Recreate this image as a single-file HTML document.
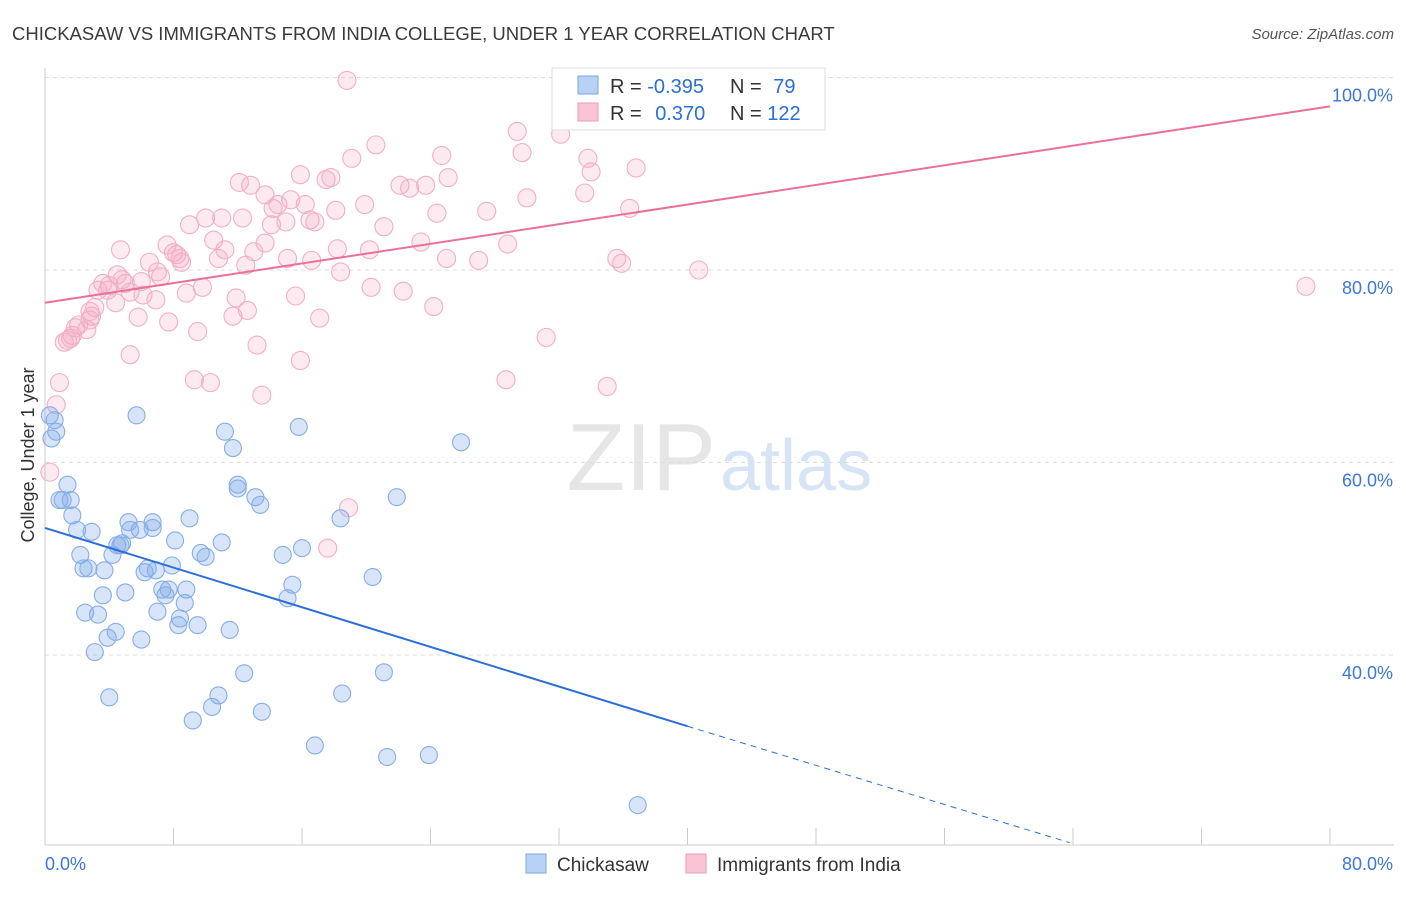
<!DOCTYPE html>
<html><head><meta charset="utf-8"><style>
body{margin:0;background:#fff;font-family:"Liberation Sans",sans-serif;}
svg text{font-family:"Liberation Sans",sans-serif;}
</style></head><body>
<svg id="chart" width="1406" height="892" viewBox="0 0 1406 892" xmlns="http://www.w3.org/2000/svg">
<text x="12" y="40" font-size="18.5" fill="#3a3a3a">CHICKASAW VS IMMIGRANTS FROM INDIA COLLEGE, UNDER 1 YEAR CORRELATION CHART</text>
<text x="1394" y="39" font-size="15" fill="#555" font-style="italic" text-anchor="end">Source: ZipAtlas.com</text>
<text x="716" y="490" font-size="96" fill="#e6e6e6" font-family="Liberation Serif" text-anchor="end">ZIP</text>
<text x="720" y="490" font-size="72" fill="#d6e4f5">atlas</text>
<g id="grid"></g>
<g id="axes"></g>
<g id="pts"></g>
<g id="lines"></g>
<text x="34" y="455" font-size="18" fill="#333" transform="rotate(-90 34 455)" text-anchor="middle">College, Under 1 year</text>
<g>
<rect x="552" y="68" width="273" height="62" fill="#fff" stroke="#ddd"/>
<rect x="578" y="76" width="20" height="18" fill="#b8d2f5" stroke="#7aa7e6"/>
<rect x="578" y="103" width="20" height="18" fill="#f8c4d4" stroke="#ee9ab5"/>
<text x="610" y="93" font-size="20" fill="#333">R = <tspan fill="#2b6fd6">-0.395</tspan></text>
<text x="730" y="93" font-size="20" fill="#333">N = <tspan fill="#2b6fd6" dx="6">79</tspan></text>
<text x="610" y="120" font-size="20" fill="#333">R = <tspan fill="#2b6fd6" dx="8">0.370</tspan></text>
<text x="730" y="120" font-size="20" fill="#333">N = <tspan fill="#2b6fd6">122</tspan></text>
</g>
<g>
<rect x="526" y="854" width="20" height="19" fill="#b8d2f5" stroke="#7aa7e6"/>
<text x="557" y="871" font-size="19" fill="#333">Chickasaw</text>
<rect x="686" y="854" width="20" height="19" fill="#f8c4d4" stroke="#ee9ab5"/>
<text x="717" y="871" font-size="19" fill="#333">Immigrants from India</text>
</g>
</svg>
<script>
const blueX=[0.3,0.4,0.6,0.7,1.1,1.4,1.6,1.7,2.0,2.2,2.4,2.7,2.9,3.1,3.3,3.6,3.7,3.9,4.2,4.4,4.5,4.8,5.0,5.2,5.3,4.0,5.7,5.9,6.0,6.2,6.4,6.7,6.9,7.0,7.3,7.5,7.7,7.9,8.1,8.3,8.4,8.7,8.8,9.0,9.2,9.5,9.7,10.0,10.4,10.8,11.0,11.2,11.5,11.7,12.0,12.0,13.1,13.4,13.5,12.4,14.8,15.1,15.4,15.8,16.0,16.8,18.4,18.5,20.4,21.1,21.3,21.9,23.9,25.9,36.9,2.5,0.9,6.7,4.7];
const blueY=[64.9,62.5,64.4,63.2,56.1,57.7,56.1,54.5,53.0,50.4,49.0,49.0,52.8,40.3,44.2,46.2,48.8,41.8,50.4,42.4,51.4,51.6,46.5,53.8,53.0,35.6,64.9,53.0,41.6,48.6,49.0,53.8,48.8,44.5,46.8,46.2,46.8,49.3,51.9,43.1,43.8,45.4,46.8,54.2,33.2,43.1,50.6,50.2,34.6,35.8,51.7,63.2,42.6,61.5,57.3,57.7,56.4,55.6,34.1,38.1,50.4,45.9,47.3,63.7,51.1,30.6,54.2,36.0,48.1,38.2,29.4,56.4,29.6,62.1,24.4,44.4,56.1,53.2,51.4];
const pinkX=[18.8,20.6,19.1,29.4,29.7,32.1,33.8,34.0,36.8,24.7,25.1,15.9,17.8,17.5,12.1,12.8,13.7,15.3,14.5,16.2,18.1,19.9,22.1,22.7,23.7,33.6,30.0,27.5,24.4,36.4,9.0,10.0,11.0,12.3,14.1,15.0,16.5,16.8,14.2,10.5,11.2,13.0,13.7,15.1,16.6,18.2,20.2,21.1,23.4,25.0,27.0,28.8,35.6,35.9,40.7,7.6,8.2,8.5,8.0,6.5,7.0,7.2,6.0,5.0,4.5,4.0,3.6,3.9,3.3,6.1,6.9,5.3,4.8,8.8,9.8,11.9,11.7,12.6,15.6,17.1,18.4,20.3,22.3,24.2,7.7,5.8,4.4,3.1,2.9,2.8,2.1,1.9,2.6,1.6,1.2,1.7,5.3,9.5,13.2,15.9,31.2,9.3,10.3,13.5,28.7,35.0,0.9,0.7,0.3,18.9,17.6,4.7,78.5,1.4,2.8,10.8,12.5,8.4];
const pinkY=[99.7,93.0,91.6,94.4,92.2,94.1,91.6,90.2,90.6,91.9,89.6,89.9,89.6,89.4,89.1,88.8,87.8,87.3,86.8,86.8,86.2,86.8,88.8,88.5,88.8,88.0,87.5,86.1,85.9,86.4,84.7,85.4,85.4,85.4,84.7,85.0,85.2,85.0,86.4,83.1,82.1,81.9,82.8,81.2,81.0,82.2,82.1,84.5,82.9,81.2,81.0,82.7,81.2,80.7,80.0,82.6,81.6,80.8,81.8,80.8,79.8,79.3,78.8,78.6,79.5,78.4,78.6,77.9,77.9,77.4,76.9,77.7,79.0,77.6,78.2,77.1,75.2,75.8,77.3,75.0,79.8,78.2,77.8,76.2,74.6,75.1,76.6,76.1,75.2,74.8,74.3,74.0,73.8,72.9,72.5,73.2,71.2,73.6,72.2,70.6,73.0,68.6,68.3,67.0,68.6,67.9,68.3,66.0,59.0,55.3,51.1,82.1,78.3,72.7,75.7,81.2,80.5,81.2];
const yTicks=[40,60,80,100];
const yTickLabels=["40.0%","60.0%","80.0%","100.0%"];
const xTicks=[0,8,16,24,32,40,48,56,64,72,80];
const blueLine=[[0,53.2],[40,32.6],[63.8,20.5]];
const pinkLine=[[0,76.6],[80,97.0]];
const NS="http://www.w3.org/2000/svg";
const X=v=>45+v*1285/80;
const Y=v=>270-(v-80)*9.625;
function mk(tag,attrs,parent){const e=document.createElementNS(NS,tag);for(const k in attrs)e.setAttribute(k,attrs[k]);parent.appendChild(e);return e;}
const grid=document.getElementById('grid'),axes=document.getElementById('axes'),pts=document.getElementById('pts'),lines=document.getElementById('lines');
yTicks.forEach((t,i)=>{
 const l=mk('line',{x1:45,x2:1394,y1:Y(t),y2:Y(t),stroke:'#ddd','stroke-dasharray':'4 4'},grid);
 
 
 const tx=mk('text',{x:1393,y:Y(t)+24,'font-size':18,fill:'#3b78d8','text-anchor':'end'},axes);
 tx.textContent=yTickLabels[i];
 
 
});
const ax=mk('line',{x1:45,x2:1394,y1:845,y2:845,stroke:'#ccc'},axes);


const ay=mk('line',{x1:45,x2:45,y1:68,y2:845,stroke:'#ccc'},axes);


xTicks.forEach(t=>{
 const l=mk('line',{x1:X(t),x2:X(t),y1:828,y2:845,stroke:'#ccc'},axes);
 
 
});
const xl0=mk('text',{x:45,y:870,'font-size':18,fill:'#3b78d8'},axes);xl0.textContent='0.0%';


const xl1=mk('text',{x:1393,y:870,'font-size':18,fill:'#3b78d8','text-anchor':'end'},axes);xl1.textContent='80.0%';


pinkX.forEach((v,i)=>{
 const c=mk('circle',{cx:X(v),cy:Y(pinkY[i]),r:9,fill:'rgba(245,170,195,0.25)',stroke:'#f2aec5','stroke-width':1.1},pts);
 
 
});
blueX.forEach((v,i)=>{
 const c=mk('circle',{cx:X(v),cy:Y(blueY[i]),r:8.5,fill:'rgba(125,170,232,0.3)',stroke:'#86ade8','stroke-width':1.1},pts);
 
 
});
const b1=mk('line',{x1:X(blueLine[0][0]),y1:Y(blueLine[0][1]),x2:X(blueLine[1][0]),y2:Y(blueLine[1][1]),stroke:'#2b6fd6','stroke-width':2},lines);


const b2=mk('line',{x1:X(blueLine[1][0]),y1:Y(blueLine[1][1]),x2:X(blueLine[2][0]),y2:Y(blueLine[2][1]),stroke:'#2b6fd6','stroke-width':1,'stroke-dasharray':'6 5'},lines);


const p1=mk('line',{x1:X(pinkLine[0][0]),y1:Y(pinkLine[0][1]),x2:X(pinkLine[1][0]),y2:Y(pinkLine[1][1]),stroke:'#e8709a','stroke-width':2},lines);


</script>
</body></html>
